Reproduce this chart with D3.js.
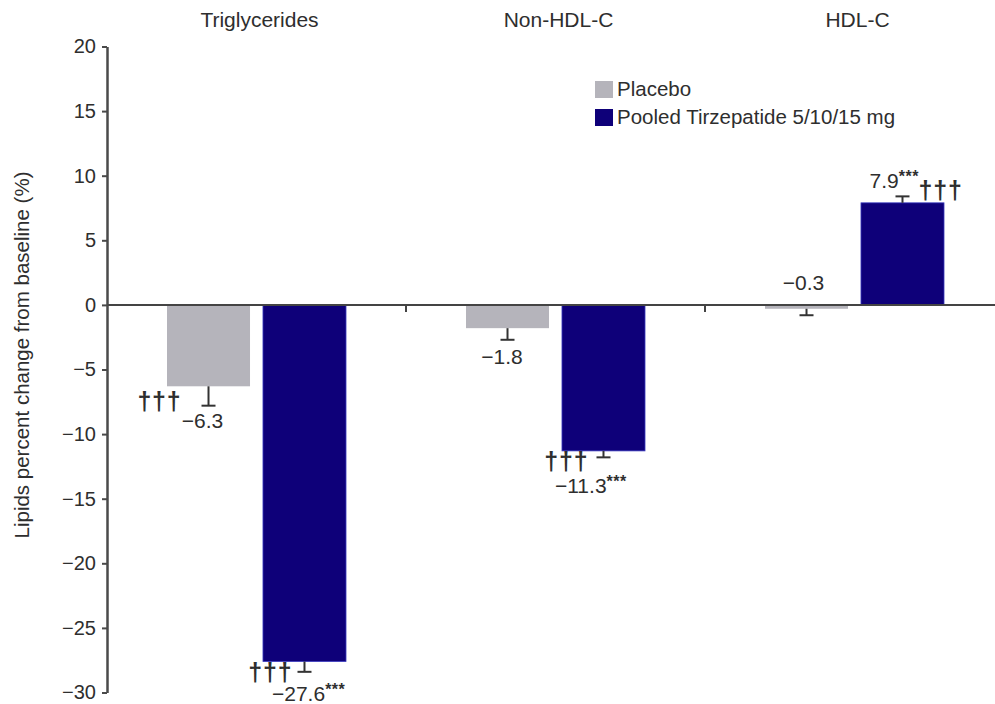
<!DOCTYPE html>
<html>
<head>
<meta charset="utf-8">
<script src="https://cdn.jsdelivr.net/npm/d3@7"></script>
<style>
  html, body { margin: 0; padding: 0; background: #fff; }
  svg { display: block; }
  text { font-family: "Liberation Sans", Arial, sans-serif; fill: #2e2e2e; }
</style>
</head>
<body>
<svg id="chart" width="995" height="704"></svg>
<script>
// Lipid endpoints, percent change from baseline
const categories = ["Triglycerides", "Non-HDL-C", "HDL-C"];
const seriesNames = ["Placebo", "Pooled Tirzepatide 5/10/15 mg"];
const placeboValues = [-6.3, -1.8, -0.3];
const tirzepatideValues = [-27.6, -11.3, 7.9];
const placeboErrors = [1.5, 0.9, 0.5];
const tirzepatideErrors = [0.8, 0.5, 0.5];
const placeboStars = ["", "", ""];
const tirzepatideStars = ["***", "***", "***"];
const placeboDaggers = ["†††", "", ""];
const tirzepatideDaggers = ["†††", "†††", "†††"];
const yTicks = [-30, -25, -20, -15, -10, -5, 0, 5, 10, 15, 20];

// Annotation placement (offsets from bar centre / error-bar end)
const labelLayout = [
  [{dx: -6, dy: 22, anchor: "middle"}, {dx: -32.5, dy: 29, anchor: "start"}],
  [{dx: -5.5, dy: 24, anchor: "middle"}, {dx: -48.5, dy: 36, anchor: "start"}],
  [{dx: -3, dy: -25, anchor: "middle"}, {dx: -33, dy: -8, anchor: "start"}]
];
const daggerLayout = [
  [{dx: -27, dy: 4, anchor: "end"}, {dx: -12, dy: 9, anchor: "end"}],
  [null, {dx: -15, dy: 13, anchor: "end"}],
  [null, {dx: 16, dy: 3, anchor: "start"}]
];

const colors = ["#b5b4bb", "#0e0079"];

const svg = d3.select("#chart");

const x0 = d3.scaleBand().domain(categories).range([107, 1004]).padding(0);
const x1 = d3.scaleBand().domain(seriesNames)
  .range([0, x0.bandwidth()]).paddingInner(0.135).paddingOuter(0.625);
const y = d3.scaleLinear().domain([-30, 20]).range([692.5, 46.5]);

const seriesValues = [placeboValues, tirzepatideValues];
const seriesErrors = [placeboErrors, tirzepatideErrors];
const seriesStars = [placeboStars, tirzepatideStars];
const seriesDaggers = [placeboDaggers, tirzepatideDaggers];

const points = [];
categories.forEach((c, ci) => {
  seriesNames.forEach((s, si) => {
    points.push({
      cat: c, ci, series: s, si,
      value: seriesValues[si][ci],
      err: seriesErrors[si][ci],
      stars: seriesStars[si][ci],
      daggers: seriesDaggers[si][ci]
    });
  });
});

// Bars
svg.append("g").selectAll("rect").data(points).join("rect")
  .attr("x", d => x0(d.cat) + x1(d.series))
  .attr("width", x1.bandwidth())
  .attr("y", d => y(Math.max(0, d.value)))
  .attr("height", d => Math.abs(y(d.value) - y(0)))
  .attr("fill", d => colors[d.si])
  .attr("stroke", d => d.si === 1 ? "#3b3bc0" : "none")
  .attr("stroke-width", 0.8);

// Error bars
const errEnd = d => y(d.value + Math.sign(d.value) * d.err);
const xc = d => x0(d.cat) + x1(d.series) + x1.bandwidth() / 2;
const eb = svg.append("g").attr("stroke", "#333").attr("stroke-width", 2);
eb.selectAll("line.stem").data(points).join("line").attr("class", "stem")
  .attr("x1", xc).attr("x2", xc)
  .attr("y1", d => y(d.value)).attr("y2", errEnd);
eb.selectAll("line.cap").data(points).join("line").attr("class", "cap")
  .attr("x1", d => xc(d) - 7).attr("x2", d => xc(d) + 7)
  .attr("y1", errEnd).attr("y2", errEnd);

// Zero baseline and group separators
svg.append("line")
  .attr("x1", 107).attr("x2", 995)
  .attr("y1", y(0)).attr("y2", y(0))
  .attr("stroke", "#444").attr("stroke-width", 2);
svg.append("g").selectAll("line").data(categories.slice(1)).join("line")
  .attr("x1", d => x0(d)).attr("x2", d => x0(d))
  .attr("y1", y(0)).attr("y2", y(0) + 7)
  .attr("stroke", "#444").attr("stroke-width", 2);

// Y axis
const yAxis = svg.append("g")
  .attr("transform", "translate(107,0)")
  .call(d3.axisLeft(y).tickValues(yTicks).tickSize(5).tickSizeOuter(0).tickPadding(6));
yAxis.select(".domain").attr("stroke", "#4a4a4a").attr("stroke-width", 2.5);
yAxis.selectAll(".tick line").attr("stroke", "#4a4a4a").attr("stroke-width", 2);
yAxis.selectAll(".tick text")
  .attr("font-size", 20)
  .attr("font-family", "Liberation Sans, Arial, sans-serif")
  .attr("fill", "#2e2e2e");

// Axis title
svg.append("text")
  .attr("transform", "translate(29,355) rotate(-90)")
  .attr("text-anchor", "middle")
  .attr("font-size", 20.5)
  .text("Lipids percent change from baseline (%)");

// Category titles
svg.append("g").selectAll("text").data(categories).join("text")
  .attr("x", d => x0(d) + x0.bandwidth() / 2 + 3)
  .attr("y", 27)
  .attr("text-anchor", "middle")
  .attr("font-size", 21)
  .text(d => d);

// Value labels
const fmt = v => (v < 0 ? "\u2212" : "") + Math.abs(v).toFixed(1);
const labels = svg.append("g").selectAll("text").data(points).join("text")
  .attr("x", d => xc(d) + labelLayout[d.ci][d.si].dx)
  .attr("y", d => errEnd(d) + labelLayout[d.ci][d.si].dy)
  .attr("text-anchor", d => labelLayout[d.ci][d.si].anchor)
  .attr("font-size", 21);
labels.append("tspan").text(d => fmt(d.value));
labels.filter(d => d.stars).append("tspan")
  .attr("font-size", 16)
  .attr("font-weight", "bold")
  .attr("dy", -6)
  .attr("letter-spacing", 0.5)
  .text(d => d.stars);

// Significance daggers
svg.append("g").selectAll("text").data(points.filter(d => d.daggers)).join("text")
  .attr("x", d => xc(d) + daggerLayout[d.ci][d.si].dx)
  .attr("y", d => errEnd(d) + daggerLayout[d.ci][d.si].dy)
  .attr("text-anchor", d => daggerLayout[d.ci][d.si].anchor)
  .attr("font-size", 25)
  .attr("font-weight", "bold")
  .attr("letter-spacing", 0.8)
  .text(d => d.daggers);

// Legend
const legend = svg.append("g").attr("transform", "translate(595,81)");
const li = legend.selectAll("g").data(seriesNames).join("g")
  .attr("transform", (d, i) => `translate(0,${i * 28})`);
li.append("rect").attr("width", 18).attr("height", 17)
  .attr("fill", (d, i) => colors[i]);
li.append("text").attr("x", 22).attr("y", 14.5)
  .attr("font-size", 20.5)
  .text(d => d);
</script>
</body>
</html>
